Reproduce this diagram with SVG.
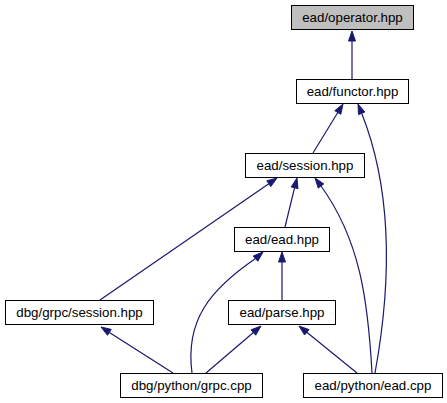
<svg xmlns="http://www.w3.org/2000/svg" width="447" height="403" viewBox="0 0 447 403">
<style>
.box{fill:#ffffff;stroke:#000000;stroke-width:1}
.cur{fill:#bfbfbf;stroke:#000000;stroke-width:1}
text{font-family:"Liberation Sans",Arial,Helvetica,sans-serif;font-size:13.3px;fill:#000000;text-anchor:middle}
.e path,.e line{fill:none;stroke:#191970;stroke-width:1.2}
.e polygon{fill:#191970;stroke:#191970;stroke-width:1}
</style>
<rect width="447" height="403" fill="#ffffff"/>
<g class="e" id="edges">
<line x1="352" y1="79" x2="352" y2="41"/>
<polygon points="352,31 348.5,41 355.5,41"/>
<line x1="313" y1="153" x2="337.8" y2="112.5"/>
<polygon points="343,104 334.8,110.7 340.8,114.3"/>
<path d="M375,373 C392,280 392,190 361.7,113.3"/>
<polygon points="358,104 364.9,112 358.5,114.6"/>
<line x1="285" y1="227" x2="294.6" y2="187.7"/>
<polygon points="297,178 291.2,186.9 298,188.6"/>
<line x1="100" y1="300" x2="268.8" y2="183.7"/>
<polygon points="277,178 266.8,180.8 270.8,186.6"/>
<path d="M372,373 C368,300 360,240 321,186"/>
<polygon points="315,178 323.8,183.9 318.2,188.1"/>
<path d="M192,373 C185,320 210,290 255.5,258.6"/>
<polygon points="263,252 253.2,256 257.8,261.2"/>
<line x1="282" y1="300" x2="282" y2="262"/>
<polygon points="282,252 278.5,262 285.5,262"/>
<line x1="173" y1="373" x2="109.4" y2="332.4"/>
<polygon points="101,327 111.3,329.4 107.5,335.3"/>
<line x1="206" y1="373" x2="253.4" y2="332.5"/>
<polygon points="261,326 251.1,329.8 255.7,335.2"/>
<line x1="357" y1="373" x2="306.8" y2="332.3"/>
<polygon points="299,326 309,329.6 304.6,335"/>
</g>
<g id="operator"><rect class="cur" x="291.5" y="5.5" width="122" height="24"/><text x="352.5" y="22">ead/operator.hpp</text></g>
<g id="functor"><rect class="box" x="296.5" y="79.5" width="112" height="24"/><text x="352.5" y="96">ead/functor.hpp</text></g>
<g id="session"><rect class="box" x="245.5" y="153.5" width="119" height="24"/><text x="305" y="170">ead/session.hpp</text></g>
<g id="eadhpp"><rect class="box" x="234.5" y="227.5" width="95" height="24"/><text x="282" y="244">ead/ead.hpp</text></g>
<g id="grpcsession"><rect class="box" x="5.5" y="300.5" width="148" height="24"/><text x="79.5" y="317">dbg/grpc/session.hpp</text></g>
<g id="parse"><rect class="box" x="228.5" y="300.5" width="107" height="24"/><text x="282" y="317">ead/parse.hpp</text></g>
<g id="grpccpp"><rect class="box" x="120.5" y="373.5" width="142" height="24"/><text x="191.5" y="390">dbg/python/grpc.cpp</text></g>
<g id="eadcpp"><rect class="box" x="303.5" y="373.5" width="139" height="24"/><text x="373" y="390">ead/python/ead.cpp</text></g>
</svg>
